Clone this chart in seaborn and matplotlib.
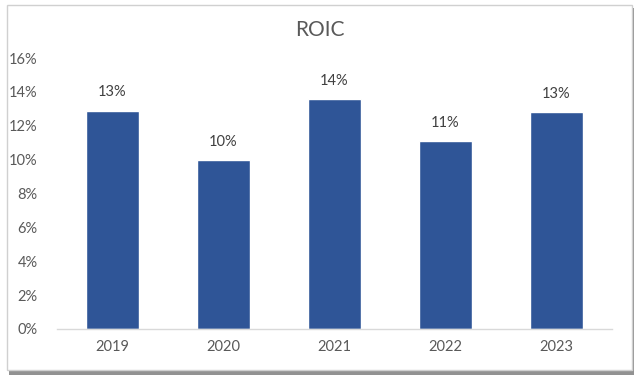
import matplotlib
matplotlib.use("Agg")
import matplotlib.pyplot as plt
import seaborn as sns
import pandas as pd
from matplotlib.patches import Rectangle

years = ["2019", "2020", "2021", "2022", "2023"]
roic = [12.9, 10.0, 13.6, 11.1, 12.8]
labels = ["13%", "10%", "14%", "11%", "13%"]
yticks = [0, 2, 4, 6, 8, 10, 12, 14, 16]

sns.set_theme(style="white")
plt.rcParams['font.family'] = ['Lato', 'DejaVu Sans']

fig = plt.figure(figsize=(6.4, 3.84), dpi=100)
fig.patch.set_facecolor("white")

# frame with shadow
shadow = Rectangle((9/640, 1-375/384), 625/640, 367/384, transform=fig.transFigure,
                   facecolor="#6e6e6e", edgecolor="none", alpha=0.75, zorder=-2)
fig.patches.append(shadow)
frame = Rectangle((7/640, 1-370/384), 625/640, 365/384, transform=fig.transFigure,
                  facecolor="white", edgecolor="#d0d0d0", linewidth=1.0, zorder=-1)
fig.patches.append(frame)

ax = fig.add_axes([57/640, 1-329/384, 555/640, (329-58)/384])
ax.set_facecolor("none")
df = pd.DataFrame({"year": years, "roic": roic})
sns.barplot(data=df, x="year", y="roic", color="#2F5597", saturation=1, width=0.48, ax=ax)

ax.set_ylim(0, 16)
ax.set_xlim(-0.5, 4.5)
ax.set_yticks(yticks)
ax.set_yticklabels([f"{v}%" for v in yticks])
ax.set_xlabel("")
ax.set_ylabel("")
for s in ["top", "right", "left"]:
    ax.spines[s].set_visible(False)
ax.spines["bottom"].set_color("#d9d9d9")
ax.spines["bottom"].set_linewidth(1.0)
ax.tick_params(axis="both", length=0, labelsize=10.5, colors="#595959", pad=8)
ax.tick_params(axis="y", pad=14)

for i, (v, lab) in enumerate(zip(roic, labels)):
    ax.annotate(lab, (i, v), xytext=(0, 8), textcoords="offset points",
                ha="center", va="bottom", fontsize=10.5, color="#404040")

fig.text(0.5, 1-30/384, "ROIC", ha="center", va="center", fontsize=15, color="#595959")

fig.savefig("out.png", dpi=100)
